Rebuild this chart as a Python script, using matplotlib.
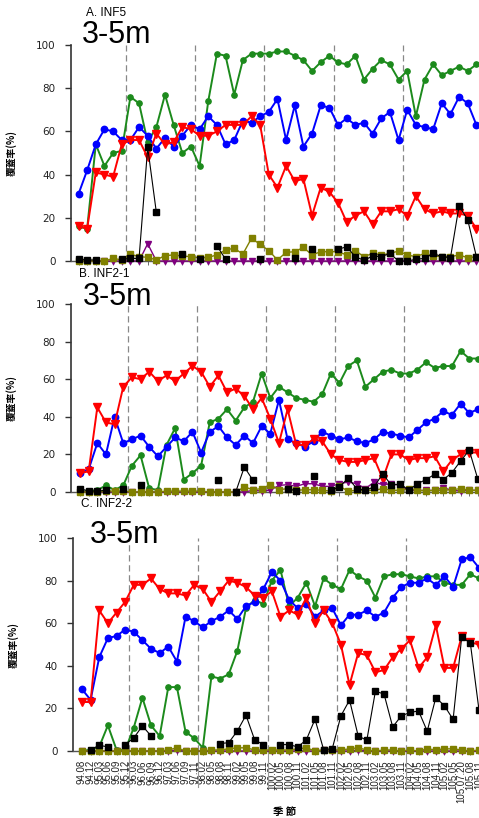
import numpy as np
import matplotlib
matplotlib.use("Agg")
import matplotlib.pyplot as plt

nan = np.nan

# season labels (x categories)
seasons = ['94.08', '94.12', '95.03', '95.06', '95.09', '95.12',
           '96.03', '96.06', '96.09', '96.12', '97.03', '97.06', '97.09', '97.11',
           '98.02', '98.05', '98.08', '98.11', '99.02', '99.05', '99.08', '99.11',
           '100.02', '100.05', '100.08', '100.11', '101.02', '101.05', '101.08', '101.11',
           '102.02', '102.05', '102.08', '102.11', '103.02', '103.05', '103.08', '103.11',
           '104.02', '104.05', '104.08', '104.11', '105.02', '105.05', '105.07.20', '105.08', '105.11']
group_breaks = [5.5, 13.5, 21.5, 29.5, 37.5]

# A. INF5
a_blue = [31, 42, 54, 61, 60, 56, 56, 62, 58, 52, 57, 53, 58, 63, 61, 67, 63, 54, 56, 65, 64, 67, 69, 75,
          56, 72, 53, 59, 72, 71, 63, 66, 63, 64, 59, 66, 69, 56, 70, 63, 62, 61, 73, 68, 76, 73, 63]
a_red = [16, 15, 41, 40, 39, 54, 56, 56, 48, 59, 54, 55, 62, 61, 58, 58, 60, 63, 63, 63, 67, 63, 40, 34,
         44, 37, 38, 21, 34, 32, 27, 18, 21, 23, 17, 23, 23, 24, 21, 30, 24, 22, 23, 22, 22, 21, 15]
a_green = [16, 15, 54, 44, 50, 51, 76, 73, 55, 62, 77, 63, 50, 53, 44, 74, 96, 95, 77, 93, 96, 96, 96, 97,
           97, 95, 93, 88, 92, 95, 92, 91, 95, 84, 89, 93, 91, 84, 88, 67, 84, 91, 86, 88, 90, 88, 91]
a_black = [0.8, 0.5, 0.5, nan, nan, 0.8, 1.2, 1.2, 52.6, 22.5, nan, nan, 3.1, nan, 0.8, nan, 7.1, 0.8,
           nan, nan, nan, 0.8, nan, nan, nan, 1.2, nan, 5.4, nan, nan, 5.4, 6.6, 2, 0.3, 2.3, 2, 3.5,
           0, 0, 0.8, 1.2, 3.5, 2, 1.5, 25.6, 19, 2]
a_olive = [0, 0, 0, 0, 1.2, 0.5, 3.2, 2, 1.7, 0.5, 2.5, 2.8, 2.3, 2, 1.5, 1.7, 2.8, 5.1, 5.9, 3.2, 10.5,
           7.7, 4.8, 0.5, 4, 4.3, 6.3, 2.8, 4.3, 4.3, 4.3, 2.8, 4.8, 2, 3.5, 2.8, 3.5, 4.6, 2.8, 2, 3.5,
           2.3, 2, 2, 2.8, 1.5, 2]
a_purple = [0, 0, 0, 0, 0, 0, 0, 0, 8, 0, 0, 0, 0, 0, 0, 0, 0, 0, 0, 0, 0, 0, 0, 0,
            0, 0, 0, 0, 0, 0, 0, 0, 0, 0, 0, 0, 0, 0, 0, 0, 0, 0, 0, 0, 0, 0, 0]

# B. INF2-1
b_blue = [10, 12, 26, 20, 40, 26, 28, 30, 24, 19, 24, 29, 27, 32, 21, 32, 35, 29, 25, 30, 26, 35, 31, 49,
          28, 26, 24, 27, 32, 30, 28, 29, 27, 26, 28, 32, 31, 30, 29, 33, 37, 39, 43, 41, 47, 42, 44]
b_red = [10, 11, 45, 37, 36, 56, 61, 60, 64, 59, 62, 59, 63, 67, 64, 56, 62, 53, 55, 51, 44, 50, 39, 26,
         44, 25, 25, 28, 27, 20, 17, 16, 16, 17, 18, 7, 20, 20, 17, 18, 18, 19, 11, 17, 20, 21, 21]
b_green = [0, 0.5, 1, 3.5, 1, 3.5, 14, 19.5, 2, 1, 25, 34, 6.6, 10, 14, 37, 39, 44, 38, 45, 48, 63, 50, 56,
           53, 50, 49, 48, 52, 63, 58, 67, 70, 56, 60, 64, 65, 63, 63, 65, 69, 66, 67, 67, 75, 71, 71]
b_black = [1.8, 0.5, 0.5, 0.9, nan, 1.8, nan, 3.5, nan, nan, nan, nan, nan, nan, nan, nan, 6.6, nan, 0,
           13.3, 6.2, nan, nan, nan, 1.8, 0.5, nan, 8.5, nan, 0.9, 2.7, 7.4, 1.8, 0.9, 2.7, 9.8, 3.5, 4.4,
           0.9, 4.4, 6.6, 9.4, 6.6, 10.3, 16.5, 22.2, 6.7]
b_olive = [0, 0, 0, 0.5, 0.5, 0.5, 0, 0, 0, 0, 0.5, 0.5, 0.5, 0.5, 0.5, 0, 0, 0, 0, 2.7, 1.2, 1.8, 3.9,
           1.2, 1.8, 0.9, 1.2, 1.2, 0.9, 0.5, 3, 0.5, 0.9, 0.9, 0.9, 1.8, 0.9, 0.9, 1.8, 0.9, 0.5, 0.9,
           0.9, 1.2, 1.8, 0.9, 0.9]
b_purple = [0, 0, 0, 0, 0, 0, 0, 0, 0, 0, 0, 0, 0, 0, 0, 0, 0, 0, 0, 0, 0.9, 0.5, 1, 3.5, 3.9, 3, 4.4,
            4.4, 3, 3, 4.4, 5.3, 4.4, 1.8, 5.3, 3.9, 4.4, 3.5, 0.9, 0.9, 0.9, 0.9, 2.3, 0.9, 0.5, 0.9, 0.9]

# C. INF2-2
c_blue = [29, 24, 44, 53, 54, 57, 56, 52, 48, 46, 49, 42, 63, 61, 58, 61, 63, 66, 62, 68, 70, 76, 84, 80,
          71, 67, 69, 63, 66, 67, 59, 64, 64, 66, 63, 65, 72, 77, 79, 79, 81, 78, 82, 77, 90, 91, 86]
c_red = [23, 23, 66, 60, 65, 70, 78, 78, 81, 76, 74, 74, 73, 78, 76, 70, 75, 80, 79, 77, 73, 72, 75, 63,
         66, 64, 72, 60, 66, 60, 50, 31, 46, 45, 37, 38, 44, 48, 52, 39, 44, 59, 39, 39, 54, 51, 50]
c_green = [0, 0.6, 2, 12, 0.6, 0.3, 11, 25, 12, 7, 30, 30, 9, 6, 1.5, 35, 34, 36, 47, 67, 71, 69, 80, 85,
           68, 72, 79, 68, 81, 78, 76, 85, 82, 80, 72, 82, 83, 83, 82, 81, 82, 82, 79, 78, 78, 83, 81]
c_black = [nan, 0.6, 2.7, 1.9, nan, 3, 6.1, 11.8, 7.1, nan, nan, nan, nan, nan, nan, nan, 3.5, 3.9, 9.4,
           16.8, 5.3, 3, nan, 3, 3, 1.9, 5.3, 14.9, 0.6, 1.1, 16.5, 23.9, 7.1, 5, 28.1, 26.7, 11.3, 16.5,
           18.1, 18.8, 9.3, 25.1, 21.2, 14.8, 53.7, 50.5, 19.2]
c_olive = [0, 0, 0, 0, 0, 0, 0, 0, 0, 0, 0.5, 1.5, 0, 0, 0, 0.5, 0.5, 1, 1.5, 1.5, 0.5, 0.5, 0.5, 0.5,
           0.5, 1, 1.5, 0, 0.5, 0.5, 0.5, 1, 1.5, 0.5, 0, 0.5, 0.5, 0, 0.5, 0, 1, 0.5, 1, 1, 0.5, 0, 0.5]
c_purple = [0, 0, 0, 0, 0, 0, 0, 0, 0, 0, 0, 0.5, 0, 0, 0, 0, 0, 0, 0, 0, 0, 0, 0, 0,
            0, 0, 0, 0, 0.5, 0, 0, 0, 0.5, 0, 0, 0, 0, 0, 0, 0, 0, 0, 0, 0, 0, 0, 0]

panels = [
    ('A. INF5', a_blue, a_red, a_green, a_black, a_olive, a_purple),
    ('B. INF2-1', b_blue, b_red, b_green, b_black, b_olive, b_purple),
    ('C. INF2-2', c_blue, c_red, c_green, c_black, c_olive, c_purple),
]

plt.rcParams['font.family'] = ['Liberation Sans', 'Noto Sans CJK TC', 'DejaVu Sans']

W, H = 479, 818
fig = plt.figure(figsize=(W / 100, H / 100), dpi=100)

# pixel layout: (axis left, first point x, y of 0, y of 100)
layout = [(71, 78.5, 261, 45), (71, 80, 492, 304), (73, 82, 751, 538)]
# name position (x, baseline y) and depth title position (x, baseline y)
name_pos = [(86, 15.5), (79, 277), (81, 507)]
depth_pos = [(82, 43), (83, 305), (90, 543)]
step = 8.65
x = np.arange(len(seasons))

for k, (name, blue, red, green, black, olive, purple) in enumerate(panels):
    left, x0, y0, y100 = layout[k]
    ax = fig.add_axes([left / W, 1 - y0 / H, (W - left) / W, (y0 - y100) / H])
    ax.set_xlim(-(x0 - left) / step, (W - x0) / step)
    ax.set_ylim(0, 100)

    for b in group_breaks:
        ax.axvline(b, color='#888888', lw=0.9, ls=(0, (5, 3)), zorder=1)
        if k == 2:
            ax.axvline(b, ymin=-0.17, ymax=0, color='#999999', lw=0.8, clip_on=False)

    ax.plot(x, green, color='#1c8a1c', marker='o', ms=3.8, lw=1.4, clip_on=False, zorder=3)
    ax.plot(x, blue, color='#0000ff', marker='o', ms=4.6, lw=1.4, clip_on=False, zorder=4)
    ax.plot(x, red, color='#ff0000', marker='v', ms=5.5, lw=1.4, clip_on=False, zorder=5)
    ax.plot(x, purple, color='#800080', marker='v', ms=4.2, lw=1.0, clip_on=False, zorder=6)
    ax.plot(x, olive, color='#808000', marker='s', ms=3.8, lw=1.0, clip_on=False, zorder=7)
    ax.plot(x, black, color='#000000', marker='s', ms=3.8, lw=0.8, clip_on=False, zorder=8)

    for s in ['top', 'right']:
        ax.spines[s].set_visible(False)
    ax.spines['left'].set_color('#333333')
    ax.spines['left'].set_linewidth(1.2)
    ax.spines['bottom'].set_color('#555555')
    ax.spines['bottom'].set_linewidth(1.0)

    ax.set_yticks([0, 20, 40, 60, 80, 100])
    ax.tick_params(axis='y', length=4, width=1, colors='#333333', labelsize=7.5, pad=7)
    for t in ax.get_yticklabels():
        t.set_family('DejaVu Sans')
        t.set_color('#222222')
    ax.set_xticks(x)
    ax.tick_params(axis='x', length=3, width=0.6, colors='#555555')
    if k == 2:
        ax.set_xticklabels(seasons, rotation=90, fontsize=7, color='#222222')
    else:
        ax.set_xticklabels([])

    ax.set_ylabel('覆蓋率(%)', family=['Noto Sans CJK TC', 'DejaVu Sans'],
                  fontsize=7, fontweight='bold', labelpad=14)

    nx, ny = name_pos[k]
    fig.text(nx / W, 1 - ny / H, name, fontsize=8.5, va='baseline', ha='left')
    dx, dy = depth_pos[k]
    fig.text(dx / W, 1 - dy / H, '3-5m', fontsize=22, va='baseline', ha='left')

fig.text(285 / W, 1 - 812 / H, '季 節', family=['Noto Sans CJK TC', 'DejaVu Sans'],
         fontsize=7.5, fontweight='bold', ha='center', va='center')

fig.savefig('out.png', dpi=100)
